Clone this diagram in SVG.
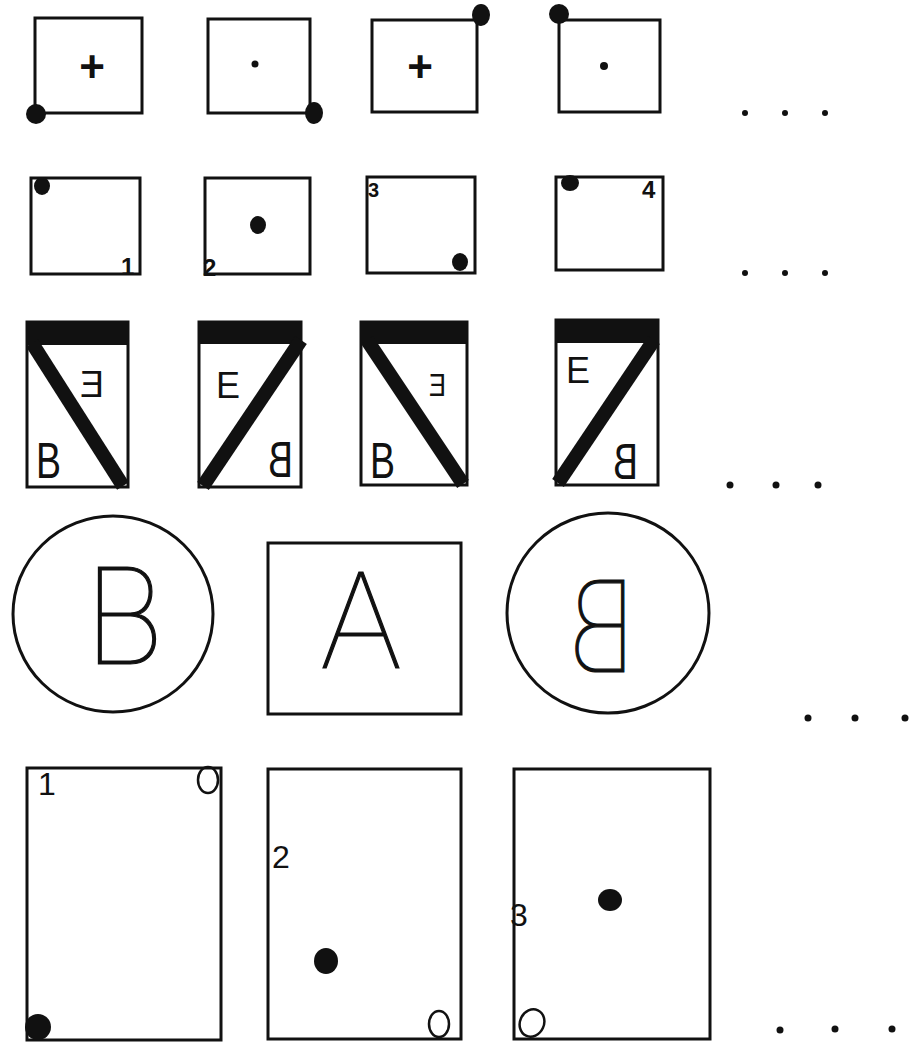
<svg xmlns="http://www.w3.org/2000/svg" width="922" height="1049" viewBox="0 0 922 1049">
<style>
.b{fill:none;stroke:#111;stroke-width:3}
.f{fill:#111}
.t{font-family:"Liberation Sans",sans-serif;fill:#111}
.h{font-family:Inter,"Liberation Sans",sans-serif;font-weight:100;fill:#111;stroke:#111;stroke-width:1.2}
.d{stroke:#111;stroke-width:14;stroke-linecap:butt}
.o{fill:none;stroke:#111;stroke-width:2.5}
</style>
<rect width="922" height="1049" fill="#fff"/>
<g id="r1c1"><rect class="b" x="35" y="18" width="107" height="95"/><text class="t" x="92" y="82" font-size="44" font-weight="bold" text-anchor="middle">+</text><circle class="f" cx="36" cy="114" r="10"/></g>
<g id="r1c2"><rect class="b" x="208" y="19" width="102" height="94"/><circle class="f" cx="255" cy="64" r="3.5"/><ellipse class="f" cx="314" cy="113" rx="9" ry="11"/></g>
<g id="r1c3"><rect class="b" x="372" y="20" width="105" height="92"/><text class="t" x="420" y="82" font-size="44" font-weight="bold" text-anchor="middle">+</text><ellipse class="f" cx="481" cy="15" rx="9" ry="11"/></g>
<g id="r1c4"><rect class="b" x="559" y="20" width="101" height="92"/><circle class="f" cx="604" cy="66" r="4"/><ellipse class="f" cx="559" cy="14" rx="10" ry="10"/></g>
<g id="r1dots"><circle class="f" cx="745" cy="113" r="3"/><circle class="f" cx="785" cy="113" r="3"/><circle class="f" cx="825" cy="113" r="3"/></g>

<g id="r2c1"><rect class="b" x="31" y="178" width="109" height="96"/><ellipse class="f" cx="42" cy="186" rx="8" ry="9"/><text class="t" x="121" y="275" font-size="24" font-weight="bold">1</text></g>
<g id="r2c2"><rect class="b" x="205" y="178" width="105" height="96"/><ellipse class="f" cx="258" cy="225" rx="8" ry="9"/><text class="t" x="203" y="276" font-size="24" font-weight="bold">2</text></g>
<g id="r2c3"><rect class="b" x="367" y="177" width="108" height="96"/><text class="t" x="368" y="197" font-size="20" font-weight="bold">3</text><ellipse class="f" cx="460" cy="262" rx="8" ry="9"/></g>
<g id="r2c4"><rect class="b" x="556" y="177" width="107" height="93"/><ellipse class="f" cx="570" cy="183" rx="9" ry="8"/><text class="t" x="642" y="198" font-size="24" font-weight="bold">4</text></g>
<g id="r2dots"><circle class="f" cx="745" cy="273" r="3"/><circle class="f" cx="785" cy="273" r="3"/><circle class="f" cx="825" cy="273" r="3"/></g>

<g id="r3c1"><rect class="b" x="27" y="322" width="101" height="165"/><rect class="f" x="27" y="322" width="101" height="23"/><line class="d" x1="32" y1="343" x2="123" y2="486"/><text class="t" transform="translate(104,397) scale(-1,1)" font-size="36">E</text><text class="t" transform="translate(36,478) scale(0.75,1)" font-size="50">B</text></g>
<g id="r3c2"><rect class="b" x="199" y="322" width="102" height="165"/><rect class="f" x="199" y="322" width="102" height="22"/><line class="d" x1="301" y1="340" x2="203" y2="486"/><text class="t" x="216" y="398" font-size="36">E</text><text class="t" transform="translate(293,477) scale(-0.75,1)" font-size="50">B</text></g>
<g id="r3c3"><rect class="b" x="361" y="322" width="106" height="163"/><rect class="f" x="361" y="322" width="106" height="22"/><line class="d" x1="367" y1="340" x2="463" y2="484"/><text class="t" transform="translate(446,396) scale(-0.8,1)" font-size="32">E</text><text class="t" transform="translate(370,478) scale(0.75,1)" font-size="50">B</text></g>
<g id="r3c4"><rect class="b" x="556" y="320" width="102" height="165"/><rect class="f" x="556" y="320" width="102" height="23"/><line class="d" x1="654" y1="340" x2="558" y2="483"/><text class="t" x="566" y="383" font-size="36">E</text><text class="t" transform="translate(638,479) scale(-0.75,1)" font-size="50">B</text></g>
<g id="r3dots"><circle class="f" cx="730" cy="485" r="3.5"/><circle class="f" cx="776" cy="485" r="3.5"/><circle class="f" cx="818" cy="485" r="3.5"/></g>

<g id="r4c1"><ellipse class="b" cx="113" cy="614" rx="100" ry="98"/><text class="h" transform="translate(84,664) scale(0.95,1)" font-size="134">B</text></g>
<g id="r4c2"><rect class="b" x="268" y="543" width="193" height="171"/><text class="h" x="361" y="668" font-size="132" text-anchor="middle">A</text></g>
<g id="r4c3"><ellipse class="b" cx="608" cy="613" rx="101" ry="100"/><text class="h" transform="translate(636,672) scale(-0.85,1)" font-size="126">B</text></g>
<g id="r4dots"><circle class="f" cx="808" cy="718" r="3.5"/><circle class="f" cx="855" cy="718" r="3.5"/><circle class="f" cx="905" cy="718" r="3.5"/></g>

<g id="r5c1"><rect class="b" x="27" y="768" width="194" height="272"/><text class="t" x="38" y="795" font-size="32">1</text><ellipse class="o" cx="208" cy="780" rx="10" ry="13"/><ellipse class="f" cx="38" cy="1027" rx="13" ry="13"/></g>
<g id="r5c2"><rect class="b" x="268" y="769" width="193" height="270"/><text class="t" x="272" y="868" font-size="32">2</text><ellipse class="f" cx="326" cy="961" rx="12" ry="13"/><ellipse class="o" cx="439" cy="1024" rx="10" ry="13"/></g>
<g id="r5c3"><rect class="b" x="514" y="769" width="196" height="270"/><text class="t" x="510" y="926" font-size="32">3</text><ellipse class="f" cx="610" cy="900" rx="12" ry="11"/><ellipse class="o" cx="532" cy="1023" rx="12" ry="14" transform="rotate(25 532 1023)"/></g>
<g id="r5dots"><circle class="f" cx="780" cy="1030" r="3.5"/><circle class="f" cx="835" cy="1029" r="3.5"/><circle class="f" cx="892" cy="1029" r="3.5"/></g>
</svg>
